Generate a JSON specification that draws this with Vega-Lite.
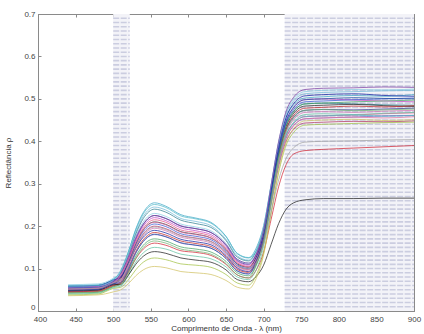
{
"$schema": "https://vega.github.io/schema/vega-lite/v6.json",
"width": 376, "height": 297,
"autosize": {"type": "none"},
"padding": {"left": 38, "top": 14, "right": 10, "bottom": 23},
"background": "white",
"config": {
  "view": {"stroke": "#8a8a8a", "strokeWidth": 1},
  "axis": {"labelFont": "Liberation Sans", "labelFontSize": 8, "labelColor": "#444", "titleFont": "Liberation Sans", "titleFontSize": 8, "titleFontWeight": "normal", "titleColor": "#333", "domainColor": "#8a8a8a", "tickColor": "#8a8a8a", "grid": false, "labelFlush": false, "labelOverlap": false}
},
"datasets": {
  "bands": [{"x": 500, "x2": 522}, {"x": 728, "x2": 900}],
  "hatch": [{"y":0.01},{"y":0.02},{"y":0.03},{"y":0.04},{"y":0.05},{"y":0.06},{"y":0.07},{"y":0.08},{"y":0.09},{"y":0.10},{"y":0.11},{"y":0.12},{"y":0.13},{"y":0.14},{"y":0.15},{"y":0.16},{"y":0.17},{"y":0.18},{"y":0.19},{"y":0.20},{"y":0.21},{"y":0.22},{"y":0.23},{"y":0.24},{"y":0.25},{"y":0.26},{"y":0.27},{"y":0.28},{"y":0.29},{"y":0.30},{"y":0.31},{"y":0.32},{"y":0.33},{"y":0.34},{"y":0.35},{"y":0.36},{"y":0.37},{"y":0.38},{"y":0.39},{"y":0.40},{"y":0.41},{"y":0.42},{"y":0.43},{"y":0.44},{"y":0.45},{"y":0.46},{"y":0.47},{"y":0.48},{"y":0.49},{"y":0.50},{"y":0.51},{"y":0.52},{"y":0.53},{"y":0.54},{"y":0.55},{"y":0.56},{"y":0.57},{"y":0.58},{"y":0.59},{"y":0.60},{"y":0.61},{"y":0.62},{"y":0.63},{"y":0.64},{"y":0.65},{"y":0.66},{"y":0.67},{"y":0.68},{"y":0.69}],
  "spectra": [
{"wl":440,"s1":0.060,"s2":0.058,"s3":0.055,"s4":0.062,"s5":0.050,"s6":0.056,"s7":0.052,"s8":0.048,"s9":0.054,"s10":0.050,"s11":0.046,"s12":0.058,"s13":0.044,"s14":0.050,"s15":0.042,"s16":0.045,"s17":0.040,"s18":0.047,"s19":0.038,"s20":0.036,"s21":0.058,"s22":0.053,"s23":0.051,"s24":0.049,"s25":0.043,"s26":0.052},
{"wl":480,"s1":0.062,"s2":0.060,"s3":0.057,"s4":0.064,"s5":0.052,"s6":0.058,"s7":0.054,"s8":0.050,"s9":0.056,"s10":0.052,"s11":0.048,"s12":0.060,"s13":0.046,"s14":0.052,"s15":0.044,"s16":0.047,"s17":0.042,"s18":0.049,"s19":0.040,"s20":0.038,"s21":0.060,"s22":0.055,"s23":0.053,"s24":0.051,"s25":0.045,"s26":0.054},
{"wl":500,"s1":0.075,"s2":0.073,"s3":0.070,"s4":0.077,"s5":0.065,"s6":0.071,"s7":0.067,"s8":0.063,"s9":0.069,"s10":0.065,"s11":0.061,"s12":0.073,"s13":0.059,"s14":0.065,"s15":0.057,"s16":0.060,"s17":0.055,"s18":0.062,"s19":0.053,"s20":0.045,"s21":0.073,"s22":0.068,"s23":0.066,"s24":0.064,"s25":0.058,"s26":0.067},
{"wl":510,"s1":0.093,"s2":0.090,"s3":0.086,"s4":0.091,"s5":0.080,"s6":0.084,"s7":0.080,"s8":0.076,"s9":0.080,"s10":0.076,"s11":0.071,"s12":0.080,"s13":0.068,"s14":0.072,"s15":0.064,"s16":0.065,"s17":0.059,"s18":0.063,"s19":0.056,"s20":0.050,"s21":0.096,"s22":0.089,"s23":0.084,"s24":0.067,"s25":0.062,"s26":0.074},
{"wl":520,"s1":0.138,"s2":0.133,"s3":0.129,"s4":0.129,"s5":0.120,"s6":0.122,"s7":0.117,"s8":0.113,"s9":0.114,"s10":0.110,"s11":0.106,"s12":0.111,"s13":0.100,"s14":0.102,"s15":0.093,"s16":0.091,"s17":0.084,"s18":0.084,"s19":0.073,"s20":0.064,"s21":0.139,"s22":0.127,"s23":0.118,"s24":0.096,"s25":0.088,"s26":0.109},
{"wl":530,"s1":0.193,"s2":0.185,"s3":0.181,"s4":0.176,"s5":0.169,"s6":0.168,"s7":0.163,"s8":0.158,"s9":0.157,"s10":0.152,"s11":0.147,"s12":0.148,"s13":0.140,"s14":0.138,"s15":0.129,"s16":0.123,"s17":0.115,"s18":0.110,"s19":0.097,"s20":0.083,"s21":0.191,"s22":0.173,"s23":0.161,"s24":0.136,"s25":0.124,"s26":0.150},
{"wl":540,"s1":0.232,"s2":0.223,"s3":0.218,"s4":0.210,"s5":0.204,"s6":0.200,"s7":0.195,"s8":0.191,"s9":0.187,"s10":0.182,"s11":0.177,"s12":0.174,"s13":0.168,"s14":0.164,"s15":0.155,"s16":0.146,"s17":0.137,"s18":0.129,"s19":0.115,"s20":0.097,"s21":0.229,"s22":0.205,"s23":0.191,"s24":0.164,"s25":0.150,"s26":0.180},
{"wl":555,"s1":0.255,"s2":0.245,"s3":0.240,"s4":0.230,"s5":0.225,"s6":0.220,"s7":0.215,"s8":0.210,"s9":0.205,"s10":0.200,"s11":0.195,"s12":0.190,"s13":0.185,"s14":0.180,"s15":0.170,"s16":0.160,"s17":0.150,"s18":0.140,"s19":0.125,"s20":0.105,"s21":0.251,"s22":0.225,"s23":0.209,"s24":0.181,"s25":0.165,"s26":0.198},
{"wl":570,"s1":0.247,"s2":0.238,"s3":0.233,"s4":0.223,"s5":0.218,"s6":0.213,"s7":0.209,"s8":0.204,"s9":0.199,"s10":0.194,"s11":0.189,"s12":0.184,"s13":0.179,"s14":0.175,"s15":0.165,"s16":0.155,"s17":0.146,"s18":0.136,"s19":0.121,"s20":0.102,"s21":0.244,"s22":0.218,"s23":0.203,"s24":0.175,"s25":0.160,"s26":0.192},
{"wl":590,"s1":0.227,"s2":0.218,"s3":0.214,"s4":0.205,"s5":0.200,"s6":0.196,"s7":0.191,"s8":0.187,"s9":0.182,"s10":0.178,"s11":0.174,"s12":0.169,"s13":0.165,"s14":0.160,"s15":0.151,"s16":0.142,"s17":0.134,"s18":0.125,"s19":0.111,"s20":0.093,"s21":0.224,"s22":0.201,"s23":0.186,"s24":0.161,"s25":0.146,"s26":0.177},
{"wl":610,"s1":0.219,"s2":0.211,"s3":0.206,"s4":0.198,"s5":0.194,"s6":0.189,"s7":0.185,"s8":0.181,"s9":0.176,"s10":0.172,"s11":0.168,"s12":0.163,"s13":0.159,"s14":0.155,"s15":0.146,"s16":0.138,"s17":0.129,"s18":0.120,"s19":0.108,"s20":0.090,"s21":0.217,"s22":0.194,"s23":0.180,"s24":0.155,"s25":0.141,"s26":0.171},
{"wl":630,"s1":0.209,"s2":0.201,"s3":0.197,"s4":0.189,"s5":0.185,"s6":0.180,"s7":0.176,"s8":0.172,"s9":0.168,"s10":0.164,"s11":0.160,"s12":0.156,"s13":0.152,"s14":0.148,"s15":0.139,"s16":0.131,"s17":0.123,"s18":0.115,"s19":0.103,"s20":0.086,"s21":0.207,"s22":0.185,"s23":0.172,"s24":0.148,"s25":0.134,"s26":0.163},
{"wl":650,"s1":0.176,"s2":0.169,"s3":0.166,"s4":0.159,"s5":0.155,"s6":0.152,"s7":0.148,"s8":0.145,"s9":0.141,"s10":0.138,"s11":0.135,"s12":0.131,"s13":0.128,"s14":0.124,"s15":0.117,"s16":0.110,"s17":0.104,"s18":0.097,"s19":0.086,"s20":0.072,"s21":0.175,"s22":0.157,"s23":0.145,"s24":0.124,"s25":0.112,"s26":0.138},
{"wl":665,"s1":0.135,"s2":0.130,"s3":0.127,"s4":0.122,"s5":0.119,"s6":0.117,"s7":0.114,"s8":0.111,"s9":0.109,"s10":0.106,"s11":0.103,"s12":0.101,"s13":0.098,"s14":0.095,"s15":0.090,"s16":0.085,"s17":0.080,"s18":0.074,"s19":0.066,"s20":0.056,"s21":0.136,"s22":0.122,"s23":0.113,"s24":0.094,"s25":0.085,"s26":0.106},
{"wl":680,"s1":0.125,"s2":0.120,"s3":0.118,"s4":0.113,"s5":0.110,"s6":0.108,"s7":0.105,"s8":0.103,"s9":0.100,"s10":0.098,"s11":0.096,"s12":0.093,"s13":0.091,"s14":0.088,"s15":0.083,"s16":0.078,"s17":0.074,"s18":0.069,"s19":0.061,"s20":0.052,"s21":0.126,"s22":0.113,"s23":0.104,"s24":0.087,"s25":0.078,"s26":0.099},
{"wl":690,"s1":0.148,"s2":0.144,"s3":0.140,"s4":0.137,"s5":0.132,"s6":0.132,"s7":0.126,"s8":0.126,"s9":0.124,"s10":0.119,"s11":0.118,"s12":0.118,"s13":0.114,"s14":0.110,"s15":0.107,"s16":0.096,"s17":0.097,"s18":0.081,"s19":0.084,"s20":0.076,"s21":0.140,"s22":0.133,"s23":0.121,"s24":0.116,"s25":0.107,"s26":0.114},
{"wl":700,"s1":0.201,"s2":0.199,"s3":0.192,"s4":0.194,"s5":0.183,"s6":0.186,"s7":0.176,"s8":0.179,"s9":0.179,"s10":0.167,"s11":0.171,"s12":0.176,"s13":0.169,"s14":0.161,"s15":0.164,"s16":0.139,"s17":0.152,"s18":0.108,"s19":0.137,"s20":0.132,"s21":0.188,"s22":0.191,"s23":0.171,"s24":0.173,"s25":0.161,"s26":0.157},
{"wl":710,"s1":0.296,"s2":0.298,"s3":0.285,"s4":0.296,"s5":0.274,"s6":0.284,"s7":0.265,"s8":0.275,"s9":0.278,"s10":0.254,"s11":0.264,"s12":0.281,"s13":0.266,"s14":0.253,"s15":0.266,"s16":0.216,"s17":0.250,"s18":0.157,"s19":0.232,"s20":0.231,"s21":0.273,"s22":0.296,"s23":0.260,"s24":0.275,"s25":0.259,"s26":0.233},
{"wl":720,"s1":0.391,"s2":0.397,"s3":0.378,"s4":0.398,"s5":0.366,"s6":0.382,"s7":0.354,"s8":0.370,"s9":0.377,"s10":0.341,"s11":0.358,"s12":0.385,"s13":0.363,"s14":0.345,"s15":0.368,"s16":0.293,"s17":0.348,"s18":0.206,"s19":0.326,"s20":0.331,"s21":0.358,"s22":0.400,"s23":0.349,"s24":0.377,"s25":0.357,"s26":0.309},
{"wl":730,"s1":0.456,"s2":0.464,"s3":0.442,"s4":0.467,"s5":0.428,"s6":0.449,"s7":0.414,"s8":0.435,"s9":0.444,"s10":0.400,"s11":0.421,"s12":0.456,"s13":0.429,"s14":0.407,"s15":0.437,"s16":0.345,"s17":0.414,"s18":0.240,"s19":0.391,"s20":0.398,"s21":0.416,"s22":0.471,"s23":0.409,"s24":0.447,"s25":0.424,"s26":0.360},
{"wl":740,"s1":0.486,"s2":0.495,"s3":0.471,"s4":0.500,"s5":0.457,"s6":0.480,"s7":0.442,"s8":0.466,"s9":0.475,"s10":0.428,"s11":0.451,"s12":0.489,"s13":0.461,"s14":0.437,"s15":0.470,"s16":0.370,"s17":0.445,"s18":0.255,"s19":0.421,"s20":0.430,"s21":0.443,"s22":0.504,"s23":0.437,"s24":0.480,"s25":0.455,"s26":0.385},
{"wl":755,"s1":0.502,"s2":0.512,"s3":0.488,"s4":0.517,"s5":0.473,"s6":0.498,"s7":0.458,"s8":0.483,"s9":0.493,"s10":0.443,"s11":0.468,"s12":0.507,"s13":0.478,"s14":0.453,"s15":0.488,"s16":0.378,"s17":0.463,"s18":0.262,"s19":0.438,"s20":0.448,"s21":0.458,"s22":0.522,"s23":0.453,"s24":0.498,"s25":0.473,"s26":0.398},
{"wl":780,"s1":0.505,"s2":0.515,"s3":0.490,"s4":0.520,"s5":0.475,"s6":0.500,"s7":0.460,"s8":0.485,"s9":0.495,"s10":0.445,"s11":0.470,"s12":0.510,"s13":0.480,"s14":0.455,"s15":0.490,"s16":0.381,"s17":0.465,"s18":0.265,"s19":0.440,"s20":0.450,"s21":0.460,"s22":0.525,"s23":0.455,"s24":0.500,"s25":0.475,"s26":0.400},
{"wl":820,"s1":0.508,"s2":0.517,"s3":0.488,"s4":0.522,"s5":0.474,"s6":0.497,"s7":0.462,"s8":0.487,"s9":0.498,"s10":0.447,"s11":0.468,"s12":0.512,"s13":0.483,"s14":0.457,"s15":0.493,"s16":0.384,"s17":0.463,"s18":0.265,"s19":0.442,"s20":0.452,"s21":0.462,"s22":0.526,"s23":0.457,"s24":0.503,"s25":0.472,"s26":0.401},
{"wl":860,"s1":0.506,"s2":0.519,"s3":0.486,"s4":0.521,"s5":0.476,"s6":0.495,"s7":0.465,"s8":0.484,"s9":0.500,"s10":0.446,"s11":0.471,"s12":0.508,"s13":0.481,"s14":0.460,"s15":0.495,"s16":0.387,"s17":0.466,"s18":0.266,"s19":0.444,"s20":0.449,"s21":0.459,"s22":0.528,"s23":0.455,"s24":0.501,"s25":0.474,"s26":0.403},
{"wl":900,"s1":0.510,"s2":0.520,"s3":0.485,"s4":0.523,"s5":0.478,"s6":0.493,"s7":0.467,"s8":0.482,"s9":0.502,"s10":0.448,"s11":0.473,"s12":0.506,"s13":0.484,"s14":0.461,"s15":0.497,"s16":0.390,"s17":0.468,"s18":0.266,"s19":0.445,"s20":0.451,"s21":0.461,"s22":0.527,"s23":0.458,"s24":0.500,"s25":0.476,"s26":0.404}
  ]
},
"layer": [
  {
    "data": {"name": "bands"},
    "mark": {"type": "rect", "fill": "#f3f3f8"},
    "encoding": {
      "x": {"field": "x", "type": "quantitative", "scale": {"domain": [400, 900], "nice": false}, "axis": {"orient": "top", "labels": false, "title": null, "values": [400,450,500,550,600,650,700,750,800,850,900], "tickSize": -3}},
      "x2": {"field": "x2"},
      "y": {"datum": 0, "type": "quantitative", "scale": {"domain": [0, 0.7], "nice": false}, "axis": {"orient": "right", "labels": false, "title": null, "values": [0,0.1,0.2,0.3,0.4,0.5,0.6,0.7], "tickSize": -3}},
      "y2": {"datum": 0.7}
    }
  },
  {
    "data": {"name": "hatch"},
    "mark": {"type": "rule", "stroke": "#cbcde0", "strokeWidth": 1.6, "strokeDash": [6, 1.5]},
    "encoding": {
      "x": {"datum": 500, "type": "quantitative", "axis": null},
      "x2": {"datum": 522},
      "y": {"field": "y", "type": "quantitative", "axis": null}
    }
  },
  {
    "data": {"name": "hatch"},
    "mark": {"type": "rule", "stroke": "#cbcde0", "strokeWidth": 1.6, "strokeDash": [6, 1.5]},
    "encoding": {
      "x": {"datum": 728, "type": "quantitative", "axis": null},
      "x2": {"datum": 900},
      "y": {"field": "y", "type": "quantitative", "axis": null}
    }
  },
  {
    "data": {"name": "spectra"},
    "transform": [{"fold": ["s1","s2","s3","s4","s5","s6","s7","s8","s9","s10","s11","s12","s13","s14","s15","s16","s17","s18","s19","s20","s21","s22","s23","s24","s25","s26"], "as": ["series", "value"]}],
    "mark": {"type": "line", "strokeWidth": 0.8, "interpolate": "monotone", "opacity": 0.9},
    "encoding": {
      "x": {"field": "wl", "type": "quantitative", "axis": {"orient": "bottom", "title": "Comprimento de Onda - λ (nm)", "values": [400,450,500,550,600,650,700,750,800,850,900], "tickSize": -3, "labelPadding": 7, "titlePadding": 1, "labelOffset": {"condition": {"test": "datum.value == 400", "value": 2}, "value": 0}}},
      "y": {"field": "value", "type": "quantitative", "axis": {"orient": "left", "title": "Reflectância ρ", "values": [0,0.1,0.2,0.3,0.4,0.5,0.6,0.7], "tickSize": -3, "labelPadding": 6, "titlePadding": 11, "labelOffset": {"condition": {"test": "datum.value == 0", "value": -4}, "value": 0}, "labelExpr": "datum.value == 0 ? '0' : format(datum.value, '.1f')"}},
      "color": {"field": "series", "type": "nominal", "legend": null,
        "scale": {"domain": ["s1","s2","s3","s4","s5","s6","s7","s8","s9","s10","s11","s12","s13","s14","s15","s16","s17","s18","s19","s20","s21","s22","s23","s24","s25","s26"],
                  "range": ["#3aa6c4","#6cb8d6","#2a7a8c","#86cce2","#303090","#c040c0","#e05080","#222222","#3050d0","#b03060","#d070b0","#1020a0","#c02020","#8060c0","#40a060","#d02030","#60c0a0","#1a1a1a","#a0c040","#d0c060","#50b8c8","#7a3aa0","#e070a0","#2050a0","#70b070","#a0a0a0"]}}
    }
  }
],
"resolve": {"axis": {"x": "independent", "y": "independent"}}
}
